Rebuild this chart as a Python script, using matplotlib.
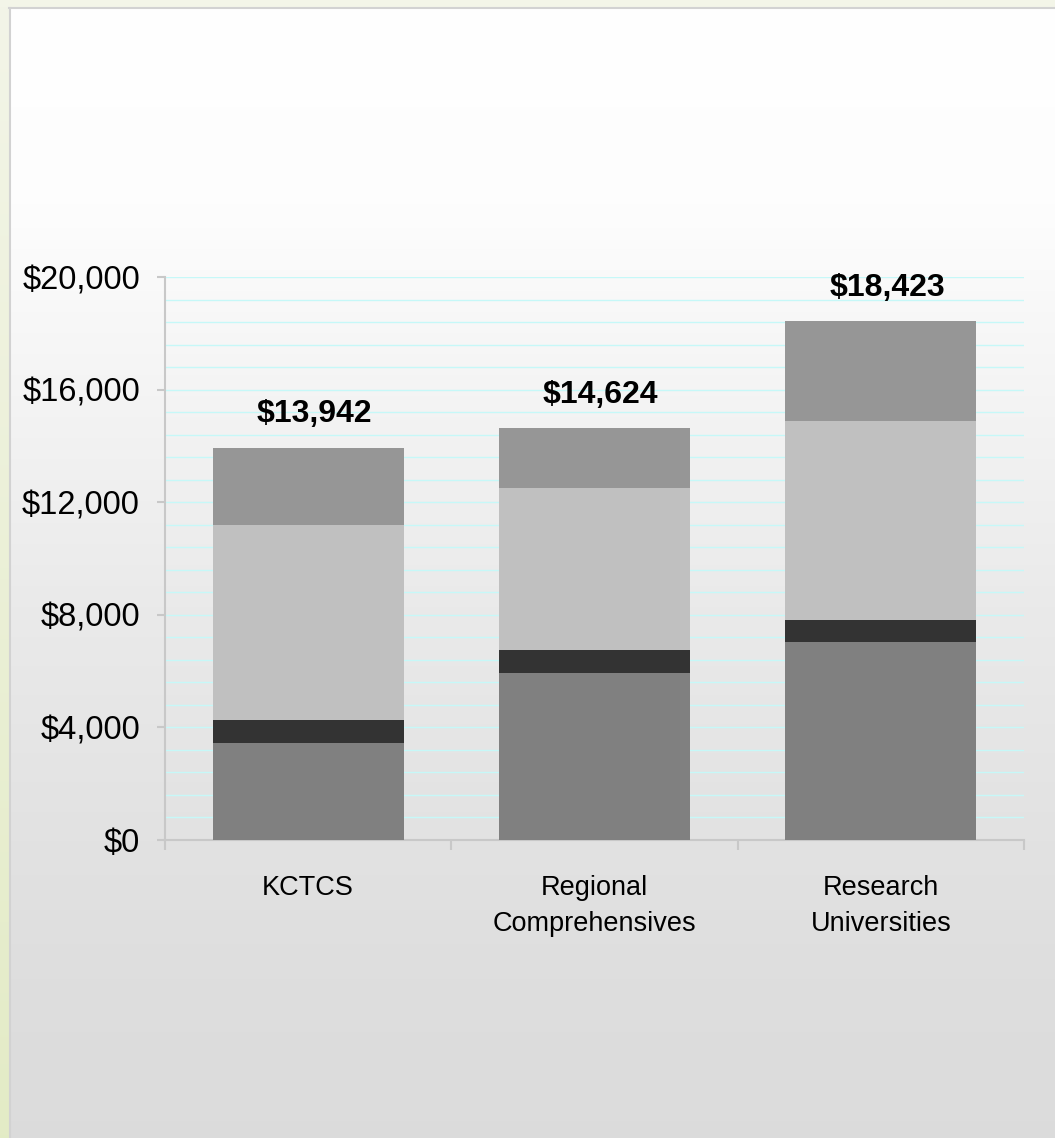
import numpy as np
from matplotlib import pyplot as plt
from matplotlib.ticker import MultipleLocator, FuncFormatter

plt.rcParams['font.family'] = ['Liberation Sans', 'DejaVu Sans']

categories = ['KCTCS', 'Regional\nComprehensives', 'Research\nUniversities']
totals = [13942, 14624, 18423]
# stacked segments, bottom to top
seg_base = [3446, 5932, 7034]
seg_band = [817, 818, 781]
seg_mid = [6927, 5754, 7070]
seg_top = [2752, 2120, 3538]
seg_colors = ['#808080', '#333333', '#c0c0c0', '#969696']

W, H = 1055, 1138
fig = plt.figure(figsize=(W / 100, H / 100), dpi=100)

# background: beige frame strip + gray gradient panel
bg = fig.add_axes([0, 0, 1, 1], zorder=-5)
bg.set_xlim(0, W)
bg.set_ylim(H, 0)
bg.axis('off')
ys = np.arange(H)
stops_y = [0, 200, 400, 600, 840, 1000, H]
stops_v = [1.0, 0.992, 0.955, 0.918, 0.886, 0.868, 0.862]
v = np.interp(ys, stops_y, stops_v)
panel = np.repeat(v[:, None], 2, axis=1)
panel = np.dstack([panel, panel, panel])
bg.imshow(panel, extent=[10, W, H, 9], aspect='auto', interpolation='bilinear')
strip_top = np.array([0.953, 0.961, 0.910])
strip_bot = np.array([0.890, 0.922, 0.776])
t = (ys / H)[:, None]
strip = (strip_top * (1 - t) + strip_bot * t)[:, None, :]
bg.imshow(strip, extent=[0, 9, H, 0], aspect='auto', interpolation='bilinear')
bg.imshow(np.tile(strip_top, (1, 2, 1)), extent=[0, W, 7, 0], aspect='auto')
bg.plot([9.5, 9.5], [8, H], color='#d2d2d2', lw=1.5)
bg.plot([9, W], [8, 8], color='#d2d2d2', lw=1.5)

ax = fig.add_axes([165 / W, 1 - 840 / H, (1024 - 165) / W, (840 - 277) / H])
ax.set_facecolor('none')

x = np.arange(len(categories))
bottom = np.zeros(len(categories))
for seg, col in zip([seg_base, seg_band, seg_mid, seg_top], seg_colors):
    ax.bar(x, seg, bottom=bottom, width=0.667, color=col, zorder=3)
    bottom += np.array(seg)

for xi, tot in zip(x, totals):
    ax.annotate('${:,}'.format(tot), (xi, tot), xytext=(4.5, 13), textcoords='offset points',
                ha='center', va='bottom', fontsize=23, fontweight='bold', color='black')

ax.set_xlim(-0.5, 2.5)
ax.set_ylim(0, 20000)
ax.yaxis.set_major_locator(MultipleLocator(4000))
ax.yaxis.set_major_formatter(FuncFormatter(lambda v, p: '${:,.0f}'.format(v)))
for g in np.arange(800, 20001, 800):
    ax.axhline(g, color='#c6f8f8', lw=1, zorder=1)

ax.set_xticks([-0.5, 0.5, 1.5, 2.5])
ax.set_xticklabels([])
ax.set_xticks(x, minor=True)
ax.set_xticklabels(categories, minor=True, fontsize=19.5, linespacing=1.5)
ax.tick_params(axis='x', which='major', length=7, width=1.5, color='#c8c8c8', direction='out')
ax.tick_params(axis='x', which='minor', length=0, pad=25)
ax.tick_params(axis='y', length=6, width=1.5, color='#c8c8c8', pad=12, labelsize=23.5)

for s in ['top', 'right']:
    ax.spines[s].set_visible(False)
for s in ['left', 'bottom']:
    ax.spines[s].set_color('#c8c8c8')
    ax.spines[s].set_linewidth(1.5)

plt.savefig('out.png', dpi=100)
